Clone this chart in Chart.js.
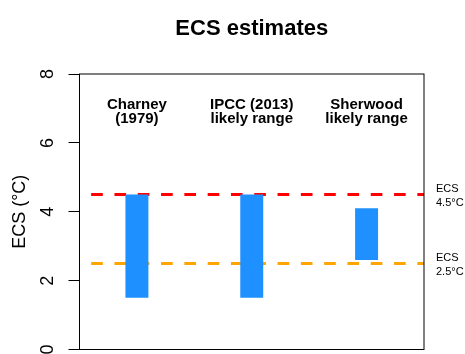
<!DOCTYPE html>
<html>
<head>
<meta charset="utf-8">
<title>ECS estimates</title>
<script src="https://cdn.jsdelivr.net/npm/chart.js@4"></script>
<style>
  html, body { margin: 0; padding: 0; background: #ffffff; }
  canvas { display: block; }
</style>
</head>
<body>
<canvas id="chart" width="465" height="354"></canvas>
<script>
// Likely ranges of equilibrium climate sensitivity (°C)
const categories = [['Charney', '(1979)'], ['IPCC (2013)', 'likely range'], ['Sherwood', 'likely range']];
const rangeLow = [1.5, 1.5, 2.6];
const rangeHigh = [4.5, 4.5, 4.1];

// Horizontal reference levels
const refValues = [4.5, 2.5];
const refColors = ['#ff0000', '#ffa500'];
const refLabels = [['ECS', '4.5°C'], ['ECS', '2.5°C']];

const yTicks = [0, 2, 4, 6, 8];
const chartTitle = 'ECS estimates';
const yTitle = 'ECS (°C)';

const FONT = '"Liberation Sans", Arial, Helvetica, sans-serif';
const DASH = 11.65;

const decor = {
  id: 'decor',
  beforeDatasetsDraw(chart) {
    const { ctx, chartArea: a, scales: { y } } = chart;
    ctx.save();
    ctx.beginPath();
    ctx.rect(a.left, a.top, a.right - a.left, a.bottom - a.top);
    ctx.clip();
    ctx.lineWidth = 3;
    ctx.setLineDash([DASH, DASH]);
    refValues.forEach((v, i) => {
      const py = y.getPixelForValue(v);
      ctx.strokeStyle = refColors[i];
      ctx.beginPath();
      ctx.moveTo(a.left - DASH, py);
      ctx.lineTo(a.right, py);
      ctx.stroke();
    });
    ctx.restore();
  },
  afterDraw(chart) {
    const { ctx, chartArea: a, scales: { x, y } } = chart;
    ctx.save();
    ctx.fillStyle = '#000';
    ctx.strokeStyle = '#000';

    // plot frame
    ctx.lineWidth = 1;
    ctx.setLineDash([]);
    ctx.strokeRect(a.left, a.top, a.right - a.left, a.bottom - a.top);

    // title
    ctx.font = 'bold 22px ' + FONT;
    ctx.textAlign = 'center';
    ctx.textBaseline = 'alphabetic';
    ctx.fillText(chartTitle, (a.left + a.right) / 2, 35);

    // y tick labels, drawn parallel to the axis
    ctx.font = '18px ' + FONT;
    y.ticks.forEach(t => {
      ctx.save();
      ctx.translate(53, y.getPixelForValue(t.value));
      ctx.rotate(-Math.PI / 2);
      ctx.fillText(String(t.value), 0, 0);
      ctx.restore();
    });

    // y axis title
    ctx.save();
    ctx.translate(25, (a.top + a.bottom) / 2);
    ctx.rotate(-Math.PI / 2);
    ctx.fillText(yTitle, 0, 0);
    ctx.restore();

    // category names inside the plot, above each bar
    ctx.font = 'bold 15px ' + FONT;
    categories.forEach((lines, i) => {
      const px = x.getPixelForValue(i);
      lines.forEach((s, j) => ctx.fillText(s, px, 109 + j * 14));
    });

    // labels for the reference levels, right of the frame
    ctx.font = '11px ' + FONT;
    ctx.textAlign = 'left';
    refValues.forEach((v, i) => {
      const py = y.getPixelForValue(v);
      ctx.fillText(refLabels[i][0], a.right + 12, py - 2.3);
      ctx.fillText(refLabels[i][1], a.right + 12, py + 11.7);
    });
    ctx.restore();
  }
};

new Chart(document.getElementById('chart'), {
  type: 'bar',
  data: {
    labels: categories,
    datasets: [{
      data: rangeLow.map((lo, i) => [lo, rangeHigh[i]]),
      backgroundColor: '#1e90ff',
      borderWidth: 0,
      borderSkipped: false,
      barPercentage: 0.2,
      categoryPercentage: 1.0
    }]
  },
  options: {
    responsive: false,
    animation: false,
    devicePixelRatio: 1,
    layout: { padding: { top: 74, right: 41, bottom: 4.5, left: 0 } },
    plugins: {
      legend: { display: false },
      title: { display: false },
      tooltip: { enabled: false }
    },
    scales: {
      x: { type: 'category', display: false, offset: true },
      y: {
        min: 0,
        max: 8,
        afterFit(s) { s.width = 79.5; },
        afterBuildTicks(s) { s.ticks = yTicks.map(v => ({ value: v })); },
        ticks: { display: false },
        grid: { drawOnChartArea: false, drawTicks: true, tickLength: 11, color: '#000', lineWidth: 1 },
        border: { display: false }
      }
    }
  },
  plugins: [decor]
});
</script>
</body>
</html>
